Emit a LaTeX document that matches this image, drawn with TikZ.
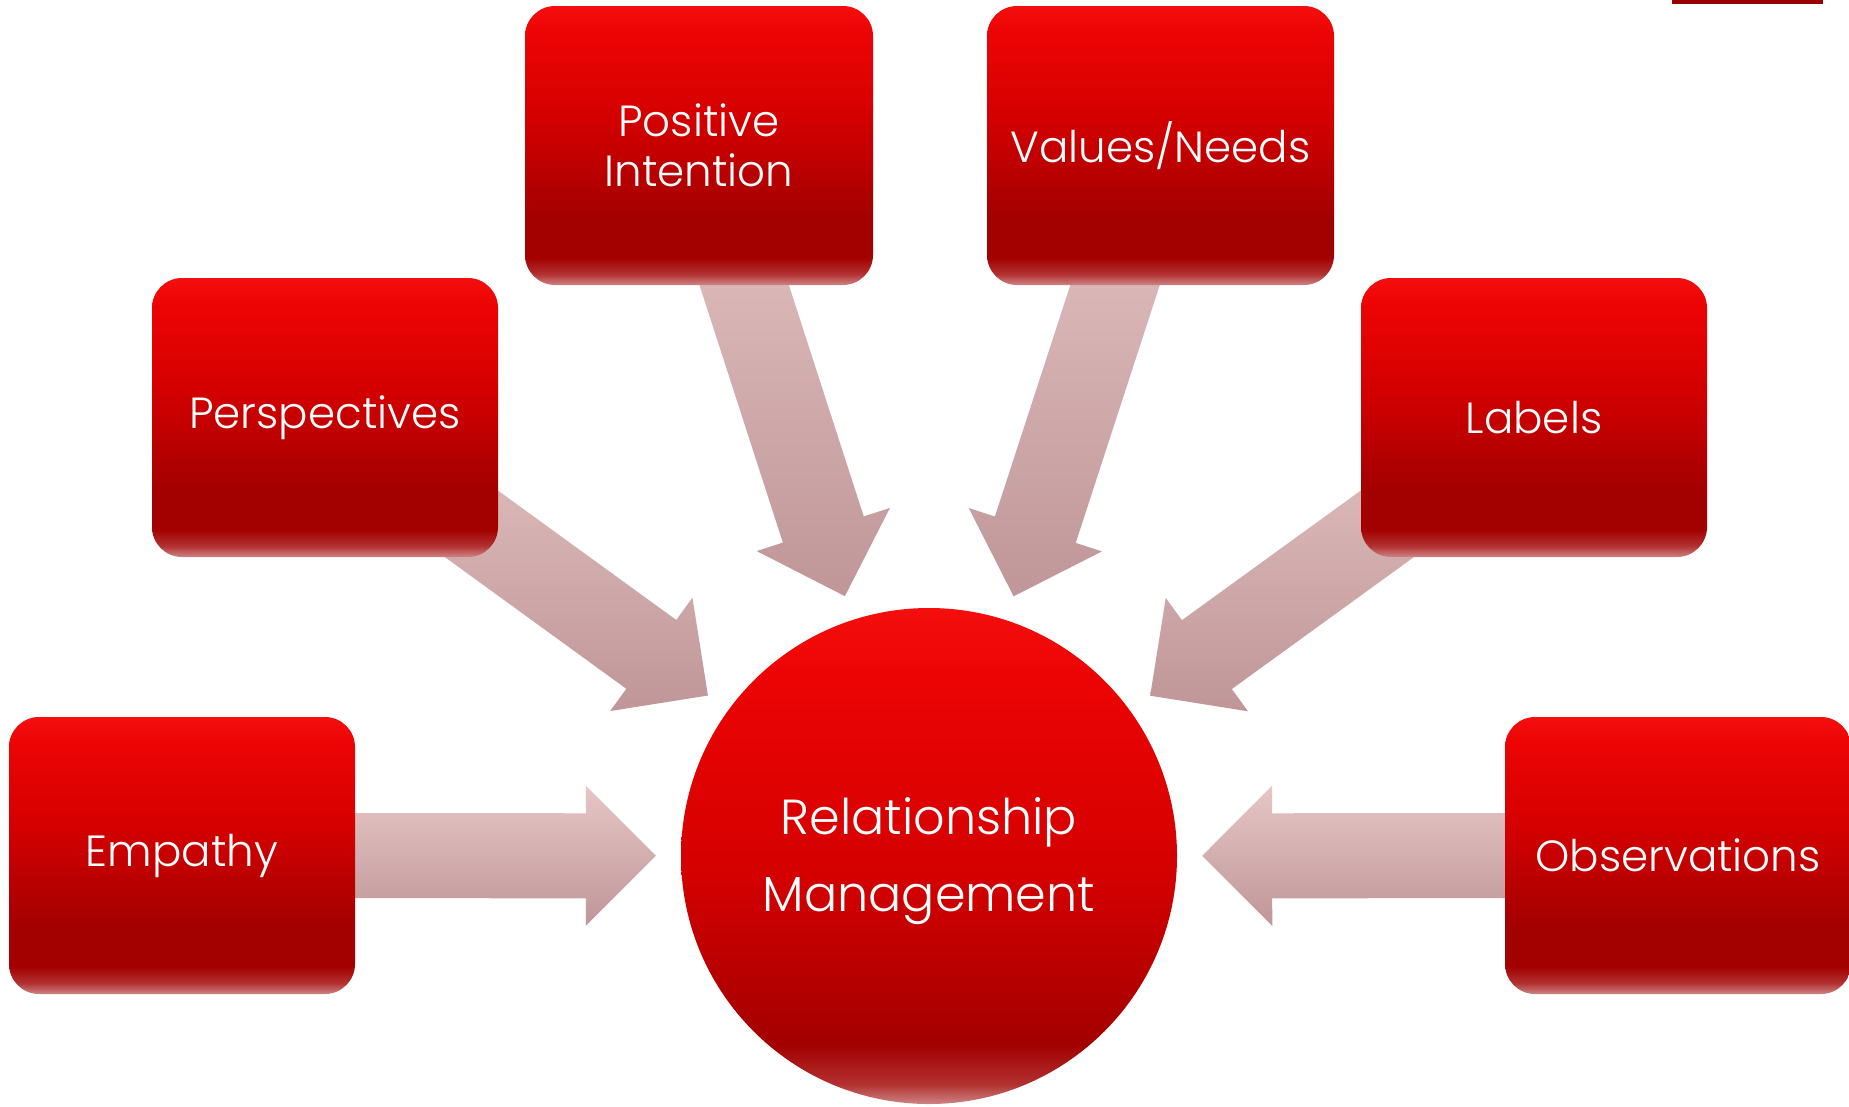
\documentclass[tikz,border=0pt]{standalone}
\usepackage{fontspec}
\setmainfont{Poppins Light}
\usepackage{tikz}
\usetikzlibrary{calc}

\definecolor{boxtop}{RGB}{245,14,14}
\definecolor{boxhigh}{RGB}{236,4,4}
\definecolor{boxmid}{RGB}{212,0,0}
\definecolor{boxdark}{RGB}{163,0,0}
\definecolor{boxrim}{RGB}{178,48,48}
\definecolor{boxedge}{RGB}{206,132,132}
\definecolor{arrowtop}{RGB}{230,198,198}
\definecolor{arrowbot}{RGB}{192,150,152}
\definecolor{barred}{RGB}{153,0,0}

\pgfdeclareverticalshading{boxshade}{100bp}{color(0bp)=(boxedge); color(25bp)=(boxedge);
  color(27bp)=(boxrim); color(30bp)=(boxdark); color(37bp)=(boxdark); color(55bp)=(boxmid);
  color(70bp)=(boxhigh); color(75bp)=(boxtop); color(100bp)=(boxtop)}
\pgfdeclareverticalshading{ballshade}{100bp}{color(0bp)=(boxedge); color(25bp)=(boxedge);
  color(27bp)=(boxrim); color(31bp)=(boxdark); color(48bp)=(boxmid);
  color(68bp)=(boxhigh); color(75bp)=(boxtop); color(100bp)=(boxtop)}

\pgfdeclarelayer{bg}
\pgfsetlayers{bg,main}

\tikzset{
  lbl/.style={align=center, text=white, inner sep=0, font=\fontsize{12.4}{14.2}\selectfont},
  box/.style={shading=boxshade, rounded corners=0.3cm},
  arrowshade/.style={top color=arrowtop, bottom color=arrowbot, draw=none}
}

\begin{document}
\begin{tikzpicture}[x=0.01cm, y=0.01cm]
    \useasboundingbox (0,0) rectangle (1849,-1106);
    \fill [barred] (1672,0) rectangle (1823,-4);
    % boxes
    \shade [box] (525,-6) rectangle node(ID_PI)[lbl] {Positive\\Intention} (873,-285);
    \shade [box] (987,-6) rectangle node(ID_VN)[lbl] {Values/Needs} (1334,-285);
    \shade [box] (152,-278) rectangle node(ID_Per)[lbl] {Perspectives} (498,-557);
    \shade [box] (1361,-278) rectangle node(ID_Lab)[lbl] {Labels} (1707,-557);
    \shade [box] (9,-717) rectangle node(ID_Emp)[lbl] {Empathy} (355,-994);
    \shade [box] (1505,-717) rectangle node(ID_Obs)[lbl] {Observations} (1851,-994);
    % centre
    \coordinate (ID_C) at (929,-856);
    \shade [shading=ballshade] (ID_C) circle (248);
    \node (ID_RM) at (ID_C) [lbl, font=\fontsize{14}{22}\selectfont, yshift=-0.05cm] {Relationship\\Management};
    % block arrows, under the boxes
    \begin{pgfonlayer}{bg}
    \foreach \src in {ID_Emp,ID_Per,ID_PI,ID_VN,ID_Lab,ID_Obs}{
        \coordinate (tip) at ($(ID_C)!2.73cm!(\src.center)$);
        \coordinate (base) at ($(tip)!0.7cm!(\src.center)$);
        \shade [arrowshade] ($(\src.center)!0.425cm!90:(tip)$) -- ($(base)!0.425cm!-90:(\src.center)$)
            -- ($(base)!0.7cm!-90:(\src.center)$) -- (tip) -- ($(base)!0.7cm!90:(\src.center)$)
            -- ($(base)!0.425cm!90:(\src.center)$) -- ($(\src.center)!0.425cm!-90:(tip)$) -- cycle;
    }
    \end{pgfonlayer}
\end{tikzpicture}
\end{document}
